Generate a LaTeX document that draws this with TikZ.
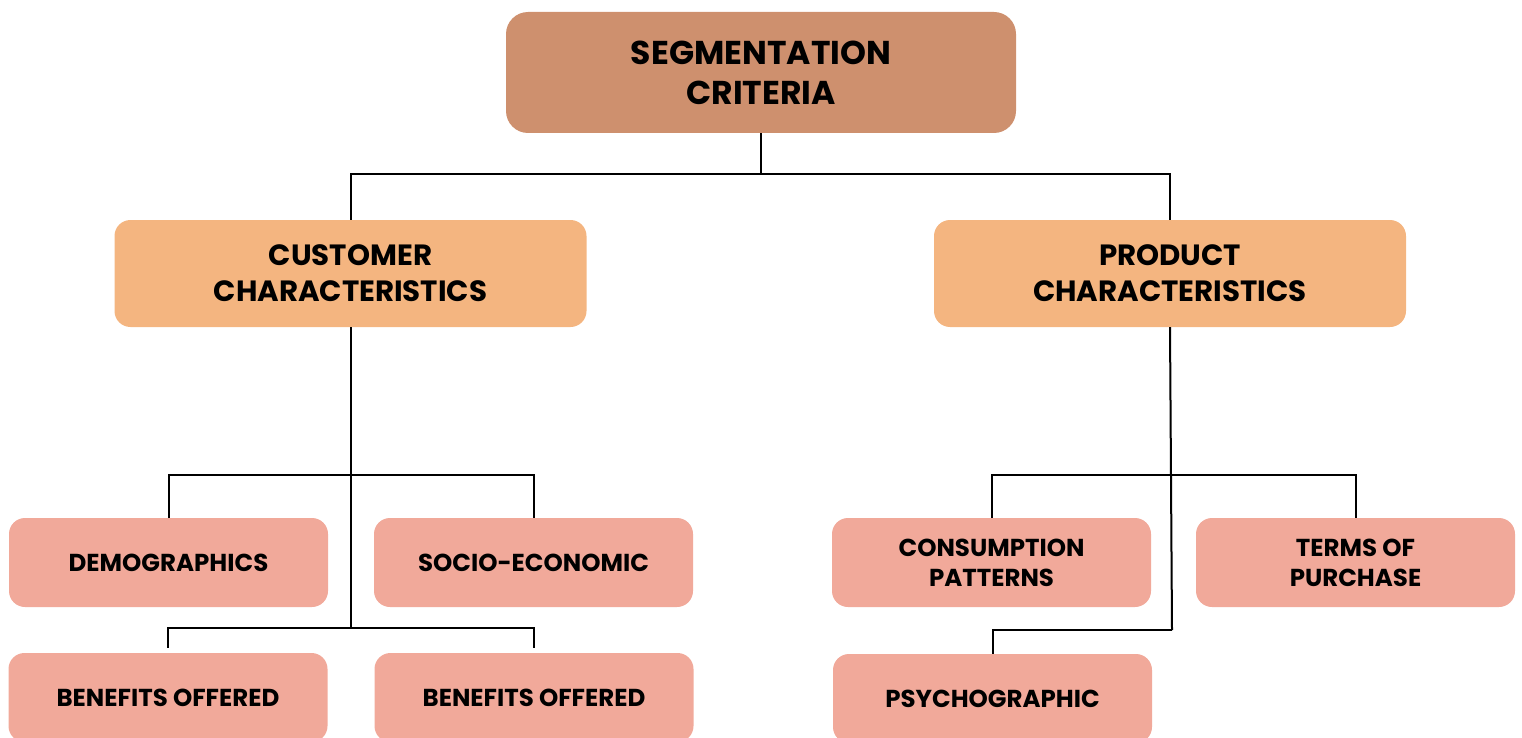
\documentclass[tikz,border=0pt]{standalone}
\usepackage{fontspec}
\setmainfont{Poppins}
\usetikzlibrary{calc}

\definecolor{rootfill}{HTML}{CE906E}
\definecolor{midfill}{HTML}{F4B580}
\definecolor{leaffill}{HTML}{F1A99A}

\tikzset{
  box/.style={rounded corners=16pt, align=center, inner sep=0pt,
              font=\bfseries, text=black},
  rootbox/.style={box, fill=rootfill, rounded corners=22pt,
                  minimum width=510pt, minimum height=121pt,
                  font=\fontsize{33}{40}\bfseries},
  midbox/.style={box, fill=midfill, minimum width=472pt, minimum height=107pt,
                 font=\fontsize{29.3}{36}\bfseries},
  leafbox/.style={box, fill=leaffill, minimum width=319pt, minimum height=89pt,
                  font=\fontsize{24.5}{30}\bfseries},
  conn/.style={draw=black, line width=2pt}
}

\begin{document}
\begin{tikzpicture}[x=1pt, y=-1pt]
  \useasboundingbox (0,0) rectangle (1522,738);

  % boxes
  \node[rootbox] (root) at (761,72.5) {SEGMENTATION\\CRITERIA};
  \node[midbox] (cust) at (350.5,273.5) {CUSTOMER\\CHARACTERISTICS};
  \node[midbox] (prod) at (1170,273.5) {PRODUCT\\CHARACTERISTICS};

  \node[leafbox] (demo)  at (168.5,562.5) {DEMOGRAPHICS};
  \node[leafbox] (socio) at (533.5,562.5) {SOCIO-ECONOMIC};
  \node[leafbox] (benA)  at (168,697.5)   {BENEFITS OFFERED};
  \node[leafbox] (benB)  at (534,697.5)   {BENEFITS OFFERED};

  \node[leafbox] (cons)  at (991.5,562.5)  {CONSUMPTION\\PATTERNS};
  \node[leafbox] (terms) at (1355.5,562.5) {TERMS OF\\PURCHASE};
  \node[leafbox] (psych) at (992.5,698.5)  {PSYCHOGRAPHIC};

  % root to the two main groups
  \draw[conn] (root.south) -- ++(0,41) coordinate (r1);
  \draw[conn] (cust.north) |- (r1) -| (prod.north);

  % customer characteristics branch
  \coordinate (c1) at ($(cust.south)+(0,148)$);
  \coordinate (c2) at ($(cust.south)+(0,301)$);
  \draw[conn] (cust.south) -- (c2);
  \draw[conn] (demo.north) |- (c1) -| (socio.north);
  \draw[conn] ([yshift=5pt]benA.north) |- (c2) -| ([yshift=5pt]benB.north);

  % product characteristics branch
  \coordinate (p1) at ($(prod.south)+(1,148)$);
  \coordinate (p2) at ($(prod.south)+(2,303)$);
  \draw[conn] (prod.south) -- (p2);
  \draw[conn] (cons.north) |- (p1) -| (terms.north);
  \draw[conn] (p2) -| (psych.north);
\end{tikzpicture}
\end{document}
